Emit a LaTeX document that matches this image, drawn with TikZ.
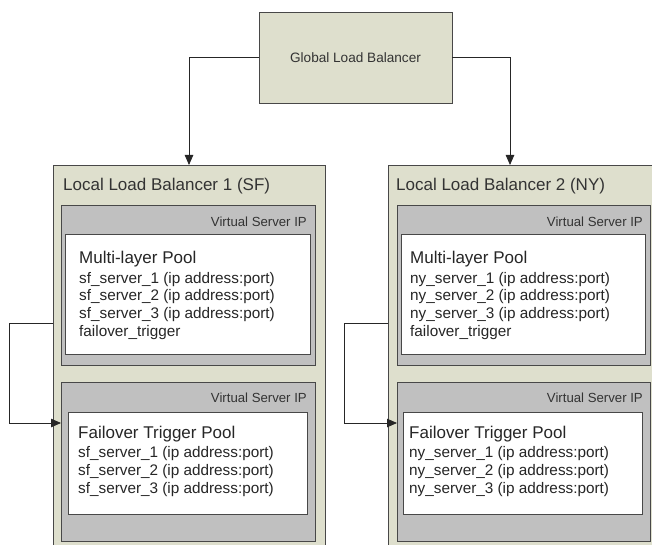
\documentclass[tikz,border=0pt]{standalone}
\usepackage{fontspec}
\setmainfont{Liberation Sans}
\usetikzlibrary{arrows.meta}
\definecolor{beige}{RGB}{222,223,205}
\definecolor{vsgray}{RGB}{192,192,192}
\definecolor{edge}{RGB}{72,72,72}
\tikzset{
  box/.style={draw=edge, line width=0.9pt, rectangle, inner sep=0pt, outer sep=0pt, anchor=north west},
  lb/.style={box, fill=beige},
  vsbox/.style={box, fill=vsgray},
  poolbox/.style={box, fill=white},
  arr/.style={draw=black!85, line width=0.8pt, -{Triangle[length=10pt,width=8.5pt]}},
  lbtitle/.style={anchor=base west, inner sep=0pt, font=\fontsize{17}{19}\selectfont, text=black!80},
  vslabel/.style={anchor=base east, inner sep=0pt, font=\fontsize{13.2}{15}\selectfont, text=black!80},
  pooltitle/.style={anchor=base west, inner sep=0pt, font=\fontsize{17}{19}\selectfont, text=black!85},
  srvline/.style={anchor=base west, inner sep=0pt, font=\fontsize{15.3}{17}\selectfont, text=black!85},
}
\begin{document}
\begin{tikzpicture}[x=1pt,y=-1pt]
\useasboundingbox (0,0) rectangle (652,545);
\clip (0,0) rectangle (652,545);

% Global load balancer
\node[lb, minimum width=193pt, minimum height=91pt, font=\fontsize{13.6}{15}\selectfont, text=black!80] (glb) at (259,12) {Global Load Balancer};

% Local load balancers
\node[lb, minimum width=272pt, minimum height=400pt] (llb1) at (53,165) {};
\node[lb, minimum width=290pt, minimum height=400pt] (llb2) at (388,165) {};

% Virtual server boxes
\node[vsbox, minimum width=254pt, minimum height=160pt] (vs1a) at (61,205) {};
\node[vsbox, minimum width=254pt, minimum height=159pt] (vs1b) at (61,382) {};
\node[vsbox, minimum width=253pt, minimum height=160pt] (vs2a) at (397,205) {};
\node[vsbox, minimum width=253pt, minimum height=159pt] (vs2b) at (397,382) {};

% Pool boxes
\node[poolbox, minimum width=245pt, minimum height=120pt] (p1a) at (65,234) {};
\node[poolbox, minimum width=239pt, minimum height=102pt] (p1b) at (68,412) {};
\node[poolbox, minimum width=244pt, minimum height=120pt] (p2a) at (401,234) {};
\node[poolbox, minimum width=239pt, minimum height=102pt] (p2b) at (403,412) {};

% Titles
\node[lbtitle] (t1) at (63,191) {Local Load Balancer 1 (SF)};
\node[lbtitle] (t2) at (396,191) {Local Load Balancer 2 (NY)};

% Virtual Server IP labels
\node[vslabel] (v1a) at (307,226) {Virtual Server IP};
\node[vslabel] (v1b) at (307,402) {Virtual Server IP};
\node[vslabel] (v2a) at (643,226) {Virtual Server IP};
\node[vslabel] (v2b) at (643,402) {Virtual Server IP};

% Pool texts, left
\node[pooltitle] (m1) at (79,263) {Multi-layer Pool};
\node[srvline] (m1s1) at (79,283) {sf\_server\_1 (ip address:port)};
\node[srvline] (m1s2) at (79,300.7) {sf\_server\_2 (ip address:port)};
\node[srvline] (m1s3) at (79,318.4) {sf\_server\_3 (ip address:port)};
\node[srvline] (m1s4) at (79,336) {failover\_trigger};

\node[pooltitle] (f1) at (78,438) {Failover Trigger Pool};
\node[srvline] (f1s1) at (78,457) {sf\_server\_1 (ip address:port)};
\node[srvline] (f1s2) at (78,475) {sf\_server\_2 (ip address:port)};
\node[srvline] (f1s3) at (78,493) {sf\_server\_3 (ip address:port)};

% Pool texts, right
\node[pooltitle] (m2) at (410,263) {Multi-layer Pool};
\node[srvline] (m2s1) at (410,283) {ny\_server\_1 (ip address:port)};
\node[srvline] (m2s2) at (410,300.7) {ny\_server\_2 (ip address:port)};
\node[srvline] (m2s3) at (410,318.4) {ny\_server\_3 (ip address:port)};
\node[srvline] (m2s4) at (410,336) {failover\_trigger};

\node[pooltitle] (f2) at (409,438) {Failover Trigger Pool};
\node[srvline] (f2s1) at (409,457) {ny\_server\_1 (ip address:port)};
\node[srvline] (f2s2) at (409,475) {ny\_server\_2 (ip address:port)};
\node[srvline] (f2s3) at (409,493) {ny\_server\_3 (ip address:port)};

% Connectors from global LB
\coordinate (cx1) at (189,0);
\coordinate (cx2) at (510,0);
\draw[arr] (glb.west) -| (llb1.north -| cx1);
\draw[arr] (glb.east) -| (llb2.north -| cx2);

% Failover connectors
\coordinate (k1a) at (9,323);
\coordinate (k1b) at (9,423);
\coordinate (k2a) at (344,323);
\coordinate (k2b) at (344,423);
\draw[arr] (k1a -| llb1.west) -- (k1a) -- (k1b) -- (k1b -| vs1b.west);
\draw[arr] (k2a -| llb2.west) -- (k2a) -- (k2b) -- (k2b -| vs2b.west);
\end{tikzpicture}
\end{document}
